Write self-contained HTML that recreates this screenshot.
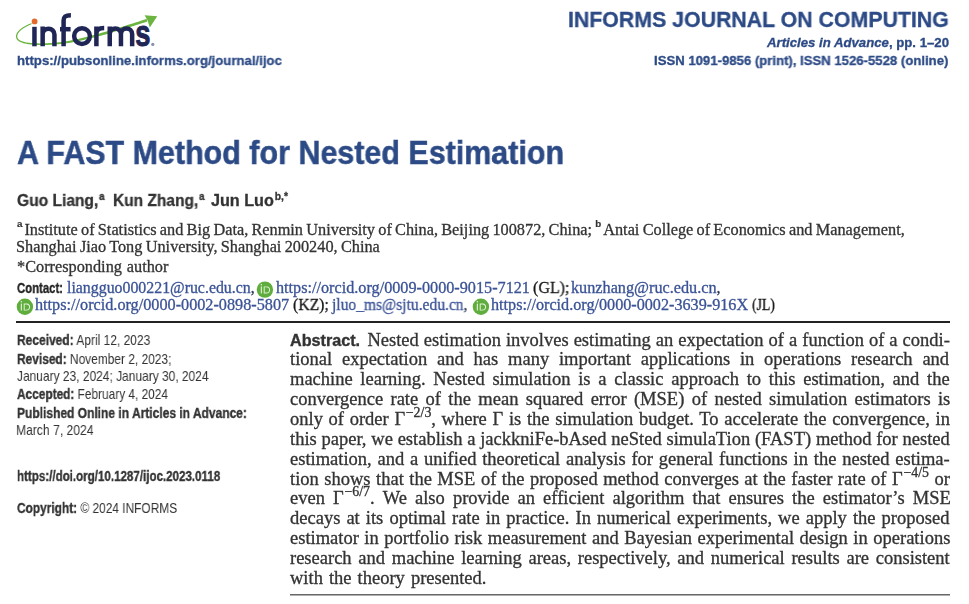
<!DOCTYPE html>
<html><head><meta charset="utf-8"><style>html,body{margin:0;padding:0;background:#fff;}
body{width:969px;height:604px;position:relative;overflow:hidden;}
.t{will-change:transform;position:absolute;white-space:nowrap;line-height:1;}
.pb{display:inline-block;width:0;height:0;}
.sup{font-size:0.64em;position:relative;top:-0.62em;margin-left:0.08em;}
.sups{font-family:'Liberation Sans',sans-serif;font-weight:bold;font-size:0.6em;position:relative;top:-0.82em;margin-right:0.2em;-webkit-text-stroke:0.2px currentColor;}
.gs{font-size:0.75em;position:relative;top:-0.55em;margin-left:0.05em;}
.abs{font-family:"Liberation Sans",sans-serif;font-weight:bold;font-size:0.875em;margin-right:0.14em;}
.rule{position:absolute;}
b,.bs{-webkit-text-stroke:0.35px currentColor;}
.abs{-webkit-text-stroke:0.35px currentColor;}
</style></head><body>
<svg style="position:absolute;left:0;top:0" width="170" height="52" viewBox="0 0 170 52">
  <path d="M31.29 23.09 L30.56 23.39 L29.83 23.70 L29.12 24.02 L28.41 24.34 L27.72 24.67 L27.03 25.00 L26.36 25.34 L25.71 25.68 L25.06 26.03 L24.43 26.39 L23.82 26.75 L23.22 27.12 L22.65 27.49 L22.08 27.86 L21.54 28.24 L21.02 28.63 L20.52 29.02 L20.04 29.42 L19.58 29.82 L19.14 30.22 L18.73 30.63 L18.34 31.05 L17.98 31.47 L17.64 31.90 L17.34 32.33 L17.06 32.77 L16.81 33.21 L16.59 33.66 L16.40 34.12 L16.25 34.58 L16.13 35.05 L16.05 35.52 L16.00 36.00 L16.00 36.48 L16.04 36.96 L16.11 37.45 L16.24 37.93 L16.40 38.41 L16.62 38.91 L16.95 39.44 L17.34 39.93 L17.79 40.39 L18.30 40.82 L18.87 41.22 L19.48 41.59 L20.15 41.94 L20.87 42.27 L21.64 42.58 L22.45 42.86 L23.31 43.13 L24.22 43.38 L25.16 43.60 L26.15 43.81 L27.18 44.00 L28.25 44.18 L29.36 44.33 L30.50 44.47 L31.67 44.59 L32.88 44.70 L34.12 44.79 L35.40 44.87 L36.69 44.93 L38.02 44.97 L39.37 45.00 L40.75 45.02 L42.15 45.02 L43.56 45.01 L45.00 44.99 L46.46 44.95 L47.93 44.90 L49.42 44.83 L50.92 44.76 L52.43 44.67 L53.95 44.57 L55.48 44.46 L57.01 44.33 L58.56 44.20 L60.10 44.05 L61.67 43.89 L63.28 43.70 L64.93 43.48 L66.62 43.24 L68.35 42.98 L70.11 42.69 L71.91 42.38 L73.75 42.04 L75.62 41.68 L77.53 41.30 L79.48 40.90 L81.46 40.47 L83.48 40.02 L85.53 39.55 L87.62 39.06 L89.75 38.55 L91.91 38.02 L94.10 37.47 L96.32 36.90 L98.58 36.31 L100.88 35.70 L103.20 35.07 L105.56 34.42 L107.96 33.75 L110.38 33.06 L112.83 32.34 L115.31 31.60 L117.82 30.85 L120.36 30.07 L122.94 29.28 L125.54 28.48 L128.17 27.66 L130.84 26.82 L133.53 25.97 L136.25 25.10 L139.00 24.22 L141.78 23.32 L144.59 22.41 L147.42 21.48 L146.58 18.92 L143.75 19.84 L140.95 20.75 L138.17 21.65 L135.43 22.53 L132.71 23.39 L130.02 24.24 L127.37 25.08 L124.74 25.90 L122.14 26.70 L119.58 27.49 L117.04 28.26 L114.53 29.02 L112.06 29.75 L109.62 30.47 L107.21 31.19 L104.84 31.89 L102.50 32.57 L100.20 33.24 L97.92 33.88 L95.68 34.51 L93.48 35.11 L91.31 35.69 L89.17 36.26 L87.07 36.80 L85.00 37.32 L82.96 37.81 L80.97 38.29 L79.01 38.74 L77.08 39.17 L75.19 39.58 L73.34 39.96 L71.53 40.32 L69.75 40.66 L68.01 40.97 L66.31 41.26 L64.65 41.52 L63.03 41.75 L61.44 41.96 L59.90 42.15 L58.37 42.32 L56.84 42.47 L55.32 42.62 L53.81 42.75 L52.30 42.87 L50.81 42.98 L49.32 43.08 L47.85 43.16 L46.39 43.23 L44.95 43.29 L43.53 43.33 L42.13 43.36 L40.75 43.38 L39.39 43.38 L38.06 43.37 L36.75 43.34 L35.47 43.30 L34.22 43.24 L33.00 43.17 L31.81 43.08 L30.66 42.97 L29.54 42.85 L28.46 42.71 L27.42 42.56 L26.43 42.39 L25.47 42.20 L24.56 41.99 L23.70 41.77 L22.88 41.53 L22.12 41.27 L21.41 41.00 L20.75 40.71 L20.15 40.40 L19.60 40.08 L19.12 39.74 L18.69 39.39 L18.33 39.03 L18.03 38.66 L17.78 38.29 L17.63 37.93 L17.49 37.55 L17.39 37.17 L17.33 36.80 L17.30 36.43 L17.29 36.06 L17.32 35.68 L17.38 35.31 L17.47 34.93 L17.59 34.56 L17.75 34.18 L17.93 33.79 L18.14 33.41 L18.38 33.03 L18.65 32.64 L18.94 32.25 L19.27 31.87 L19.62 31.48 L19.99 31.10 L20.40 30.72 L20.82 30.33 L21.27 29.96 L21.75 29.58 L22.24 29.21 L22.76 28.84 L23.30 28.47 L23.85 28.11 L24.43 27.75 L25.02 27.39 L25.62 27.04 L26.25 26.69 L26.89 26.35 L27.54 26.01 L28.21 25.68 L28.89 25.36 L29.58 25.04 L30.28 24.72 L30.99 24.41 L31.71 24.11 Z" fill="#6ab43f"/>
  <path d="M144.6 15.3 L157.2 16.3 L149.8 27.4 L147.6 20.6 Z" fill="#6ab43f"/>
  <g fill="none" stroke="#1f2555" stroke-width="4.5">
    <path d="M34.45 26.8 V46.3"/>
    <path d="M42.65 46.3 V26.4 M42.65 34.6 A5.9 5.9 0 0 1 54.45 34.6 V46.3"/>
    <path d="M63.6 46.3 V20.5 C63.6 16.5 65.5 15.3 70.9 15.3"/>
    <path d="M60 29.2 H70.6"/>
    <circle cx="82" cy="36.1" r="7.9"/>
    <path d="M96.4 46.3 V26.4 M96.4 34 C96.4 29.5 99 28.1 104.2 28.1"/>
    <path d="M109.75 46.3 V26.4 M109.75 34 A5.6 5.6 0 0 1 120.95 34 V46.3 M120.95 34 A5.6 5.6 0 0 1 132.15 34 V46.3"/>
  </g>
  <text x="0" y="0" font-family="Liberation Sans" font-weight="bold" font-size="37" fill="#1f2555" stroke="#1f2555" stroke-width="1" transform="translate(135.3 46.2) scale(0.74 1)">s</text>
  <circle cx="34.6" cy="21.4" r="2.9" fill="#e2692b"/>
  <circle cx="152.8" cy="44.4" r="1.6" fill="#8a90aa"/>
</svg>
<svg width="0" height="0" style="position:absolute">
  <defs>
    <g id="orcid">
      <circle cx="0" cy="0" r="8.2" fill="#5fad3c"/>
      <rect x="-4.1" y="-3.1" width="1.1" height="6.9" fill="#e4f1dc"/>
      <circle cx="-3.55" cy="-4.9" r="0.75" fill="#e4f1dc"/>
      <path d="M-1.2 -3.2 H1.4 C 4.6 -3.2, 5.2 -1.2, 5.2 0.3 C 5.2 2.2, 4 3.9, 1.4 3.9 H-1.2 Z M-0.2 -2.3 V3 H1.4 C 3.3 3, 4.2 1.8, 4.2 0.3 C 4.2 -1.2, 3.3 -2.3, 1.4 -2.3 Z" fill="#e4f1dc" fill-rule="evenodd"/>
    </g>
  </defs>
</svg>
<svg style="position:absolute;left:0;top:0" width="969" height="604" viewBox="0 0 969 604">
  <use href="#orcid" x="264.9" y="289.6"/>
  <use href="#orcid" x="24.9" y="306.7"/>
  <use href="#orcid" x="480.9" y="306.7"/>
</svg>
<div class="rule" style="left:16px;top:321px;width:934px;height:2px;background:#222;"></div>
<div class="rule" style="left:290px;top:594px;width:660px;height:1px;background:#686868;"></div>
<div class="rule" style="left:290px;top:595px;width:660px;height:1px;background:#b0b0b0;"></div>

<div class='t' id='url' style="left:16.90px;top:54.00px;font-family:'Liberation Sans',sans-serif;-webkit-text-stroke:0.3px currentColor;font-weight:bold;font-size:13.2px;color:#2c4a85;transform:scaleX(0.9985);transform-origin:0 0;">https://pubsonline.informs.org/journal/ijoc<span class='pb'></span></div>
<div class='t' id='jn' style="left:568.32px;top:9.30px;font-family:'Liberation Sans',sans-serif;-webkit-text-stroke:0.3px currentColor;font-weight:bold;font-size:21.8px;color:#2c4a85;-webkit-text-stroke:0.3px #2c4a85;transform:scaleX(0.9776);transform-origin:0 0;">INFORMS JOURNAL ON COMPUTING<span class='pb'></span></div>
<div class='t' id='aia' style="left:766.60px;top:36.00px;font-family:'Liberation Sans',sans-serif;-webkit-text-stroke:0.3px currentColor;font-weight:bold;font-size:13.2px;color:#2c4a85;transform:scaleX(1.0000);transform-origin:0 0;"><i>Articles in Advance</i>, pp. 1–20<span class='pb'></span></div>
<div class='t' id='issn' style="left:654.00px;top:54.00px;font-family:'Liberation Sans',sans-serif;-webkit-text-stroke:0.3px currentColor;font-weight:bold;font-size:13.2px;color:#2c4a85;transform:scaleX(0.9966);transform-origin:0 0;">ISSN 1091-9856 (print), ISSN 1526-5528 (online)<span class='pb'></span></div>
<div class='t' id='title' style="left:17.00px;top:137.00px;font-family:'Liberation Sans',sans-serif;-webkit-text-stroke:0.3px currentColor;font-weight:bold;font-size:32.7px;color:#2c4a85;-webkit-text-stroke:0.5px #2c4a85;transform:scaleX(0.9317);transform-origin:0 0;">A FAST Method for Nested Estimation<span class='pb'></span></div>
<div class='t' id='au1' style="left:17.20px;top:193.40px;font-family:'Liberation Sans',sans-serif;-webkit-text-stroke:0.3px currentColor;font-weight:bold;font-size:16px;color:#333;transform:scaleX(0.9733);transform-origin:0 0;">Guo Liang,<span class='sup'>a</span><span class='pb'></span></div>
<div class='t' id='au2' style="left:112.70px;top:193.40px;font-family:'Liberation Sans',sans-serif;-webkit-text-stroke:0.3px currentColor;font-weight:bold;font-size:16px;color:#333;transform:scaleX(0.9695);transform-origin:0 0;">Kun Zhang,<span class='sup'>a</span><span class='pb'></span></div>
<div class='t' id='au3' style="left:211.00px;top:193.40px;font-family:'Liberation Sans',sans-serif;-webkit-text-stroke:0.3px currentColor;font-weight:bold;font-size:16px;color:#333;transform:scaleX(1.0104);transform-origin:0 0;">Jun Luo<span class='sup'>b,*</span><span class='pb'></span></div>
<div class='t' id='aff1' style="left:16.70px;top:221.50px;font-family:'Liberation Serif',serif;font-size:16.3px;color:#333;-webkit-text-stroke:0.3px #333;word-spacing:-0.82px;"><span class='sups'>a</span>Institute of Statistics and Big Data, Renmin University of China, Beijing 100872, China; <span class='sups'>b</span>Antai College of Economics and Management,<span class='pb'></span></div>
<div class='t' id='aff2' style="left:15.70px;top:238.60px;font-family:'Liberation Serif',serif;font-size:16.3px;color:#333;-webkit-text-stroke:0.3px #333;word-spacing:-0.75px;">Shanghai Jiao Tong University, Shanghai 200240, China<span class='pb'></span></div>
<div class='t' id='corr' style="left:17.20px;top:258.90px;font-family:'Liberation Serif',serif;font-size:16.3px;color:#333;-webkit-text-stroke:0.3px #333;word-spacing:0.80px;">*Corresponding author<span class='pb'></span></div>
<div class='t' id='contact' style="left:16.90px;top:280.50px;font-family:'Liberation Sans',sans-serif;-webkit-text-stroke:0.35px currentColor;font-weight:bold;font-size:14.6px;color:#222;transform:scaleX(0.7776);transform-origin:0 0;">Contact:<span class='pb'></span></div>
<div class='t' id='em1' style="left:66.50px;top:279.50px;font-family:'Liberation Serif',serif;font-size:15.7px;color:#3b5396;-webkit-text-stroke:0.3px #3b5396;transform:scaleX(1.0108);transform-origin:0 0;">liangguo000221@ruc.edu.cn<span style='color:#222'>,</span><span class='pb'></span></div>
<div class='t' id='orc1' style="left:275.80px;top:279.50px;font-family:'Liberation Serif',serif;font-size:15.7px;color:#3b5396;-webkit-text-stroke:0.3px #3b5396;transform:scaleX(1.0327);transform-origin:0 0;">https://orcid.org/0009-0000-9015-7121<span class='pb'></span></div>
<div class='t' id='gl' style="left:533.00px;top:279.50px;font-family:'Liberation Serif',serif;font-size:16.3px;color:#161616;-webkit-text-stroke:0.3px #161616;transform:scaleX(0.9833);transform-origin:0 0;">(GL);<span class='pb'></span></div>
<div class='t' id='em2' style="left:571.40px;top:279.50px;font-family:'Liberation Serif',serif;font-size:15.7px;color:#3b5396;-webkit-text-stroke:0.3px #3b5396;transform:scaleX(1.0340);transform-origin:0 0;">kunzhang@ruc.edu.cn<span style='color:#222'>,</span><span class='pb'></span></div>
<div class='t' id='orc2' style="left:34.80px;top:296.50px;font-family:'Liberation Serif',serif;font-size:15.7px;color:#3b5396;-webkit-text-stroke:0.3px #3b5396;transform:scaleX(1.0333);transform-origin:0 0;">https://orcid.org/0000-0002-0898-5807<span class='pb'></span></div>
<div class='t' id='kz' style="left:293.00px;top:296.50px;font-family:'Liberation Serif',serif;font-size:16.3px;color:#161616;-webkit-text-stroke:0.3px #161616;transform:scaleX(0.9667);transform-origin:0 0;">(KZ);<span class='pb'></span></div>
<div class='t' id='em3' style="left:331.99px;top:296.50px;font-family:'Liberation Serif',serif;font-size:15.7px;color:#3b5396;-webkit-text-stroke:0.3px #3b5396;transform:scaleX(0.9891);transform-origin:0 0;">jluo_ms@sjtu.edu.cn<span style='color:#222'>,</span><span class='pb'></span></div>
<div class='t' id='orc3' style="left:490.90px;top:296.50px;font-family:'Liberation Serif',serif;font-size:15.7px;color:#3b5396;-webkit-text-stroke:0.3px #3b5396;transform:scaleX(1.0309);transform-origin:0 0;">https://orcid.org/0000-0002-3639-916X<span class='pb'></span></div>
<div class='t' id='jl' style="left:751.70px;top:296.50px;font-family:'Liberation Serif',serif;font-size:16.3px;color:#161616;-webkit-text-stroke:0.3px #161616;transform:scaleX(0.8407);transform-origin:0 0;">(JL)<span class='pb'></span></div>
<div class='t' id='rec' style="left:16.90px;top:332.90px;font-family:'Liberation Sans',sans-serif;font-size:14.3px;color:#333;transform:scaleX(0.8384);transform-origin:0 0;"><b>Received:</b> April 12, 2023<span class='pb'></span></div>
<div class='t' id='rev' style="left:16.90px;top:351.70px;font-family:'Liberation Sans',sans-serif;font-size:14.3px;color:#333;transform:scaleX(0.8337);transform-origin:0 0;"><b>Revised:</b> November 2, 2023;<span class='pb'></span></div>
<div class='t' id='jan' style="left:16.90px;top:368.60px;font-family:'Liberation Sans',sans-serif;font-size:14.3px;color:#333;transform:scaleX(0.8367);transform-origin:0 0;">January 23, 2024; January 30, 2024<span class='pb'></span></div>
<div class='t' id='acc' style="left:16.90px;top:387.20px;font-family:'Liberation Sans',sans-serif;font-size:14.3px;color:#333;transform:scaleX(0.8297);transform-origin:0 0;"><b>Accepted:</b> February 4, 2024<span class='pb'></span></div>
<div class='t' id='pub' style="left:16.90px;top:406.00px;font-family:'Liberation Sans',sans-serif;font-size:14.3px;color:#333;transform:scaleX(0.8396);transform-origin:0 0;"><b>Published Online in Articles in Advance:</b><span class='pb'></span></div>
<div class='t' id='mar' style="left:16.05px;top:423.30px;font-family:'Liberation Sans',sans-serif;font-size:14.3px;color:#333;transform:scaleX(0.8478);transform-origin:0 0;">March 7, 2024<span class='pb'></span></div>
<div class='t' id='doi' style="left:16.90px;top:468.90px;font-family:'Liberation Sans',sans-serif;font-size:14.3px;color:#333;transform:scaleX(0.8092);transform-origin:0 0;"><b>https://doi.org/10.1287/ijoc.2023.0118</b><span class='pb'></span></div>
<div class='t' id='copy' style="left:16.90px;top:500.70px;font-family:'Liberation Sans',sans-serif;font-size:14.3px;color:#333;transform:scaleX(0.8318);transform-origin:0 0;"><b>Copyright:</b> © 2024 INFORMS<span class='pb'></span></div>
<div class='t' id='ab0' style="left:289.70px;top:330.50px;font-family:'Liberation Serif',serif;font-size:18.5px;color:#333;-webkit-text-stroke:0.32px #333;word-spacing:0.41px;"><span class='abs'>Abstract.</span> Nested estimation involves estimating an expectation of a function of a condi-<span class='pb'></span></div>
<div class='t' id='ab1' style="left:289.70px;top:350.36px;font-family:'Liberation Serif',serif;font-size:18.5px;color:#333;-webkit-text-stroke:0.32px #333;word-spacing:5.19px;">tional expectation and has many important applications in operations research and<span class='pb'></span></div>
<div class='t' id='ab2' style="left:289.70px;top:370.22px;font-family:'Liberation Serif',serif;font-size:18.5px;color:#333;-webkit-text-stroke:0.32px #333;word-spacing:3.08px;">machine learning. Nested simulation is a classic approach to this estimation, and the<span class='pb'></span></div>
<div class='t' id='ab3' style="left:289.70px;top:390.08px;font-family:'Liberation Serif',serif;font-size:18.5px;color:#333;-webkit-text-stroke:0.32px #333;word-spacing:2.74px;">convergence rate of the mean squared error (MSE) of nested simulation estimators is<span class='pb'></span></div>
<div class='t' id='ab4' style="left:289.70px;top:409.94px;font-family:'Liberation Serif',serif;font-size:18.5px;color:#333;-webkit-text-stroke:0.32px #333;word-spacing:1.06px;">only of order Γ<span class='gs'>−2/3</span>, where Γ is the simulation budget. To accelerate the convergence, in<span class='pb'></span></div>
<div class='t' id='ab5' style="left:289.70px;top:429.80px;font-family:'Liberation Serif',serif;font-size:18.5px;color:#333;-webkit-text-stroke:0.32px #333;word-spacing:0.17px;">this paper, we establish a jackkniFe-bAsed neSted simulaTion (FAST) method for nested<span class='pb'></span></div>
<div class='t' id='ab6' style="left:289.70px;top:449.66px;font-family:'Liberation Serif',serif;font-size:18.5px;color:#333;-webkit-text-stroke:0.32px #333;word-spacing:1.16px;">estimation, and a unified theoretical analysis for general functions in the nested estima-<span class='pb'></span></div>
<div class='t' id='ab7' style="left:289.70px;top:469.52px;font-family:'Liberation Serif',serif;font-size:18.5px;color:#333;-webkit-text-stroke:0.32px #333;word-spacing:0.87px;">tion shows that the MSE of the proposed method converges at the faster rate of Γ<span class='gs'>−4/5</span> or<span class='pb'></span></div>
<div class='t' id='ab8' style="left:289.70px;top:489.38px;font-family:'Liberation Serif',serif;font-size:18.5px;color:#333;-webkit-text-stroke:0.32px #333;word-spacing:3.49px;">even Γ<span class='gs'>−6/7</span>. We also provide an efficient algorithm that ensures the estimator’s MSE<span class='pb'></span></div>
<div class='t' id='ab9' style="left:289.70px;top:509.24px;font-family:'Liberation Serif',serif;font-size:18.5px;color:#333;-webkit-text-stroke:0.32px #333;word-spacing:1.45px;">decays at its optimal rate in practice. In numerical experiments, we apply the proposed<span class='pb'></span></div>
<div class='t' id='ab10' style="left:289.70px;top:529.10px;font-family:'Liberation Serif',serif;font-size:18.5px;color:#333;-webkit-text-stroke:0.32px #333;word-spacing:0.89px;">estimator in portfolio risk measurement and Bayesian experimental design in operations<span class='pb'></span></div>
<div class='t' id='ab11' style="left:289.70px;top:548.96px;font-family:'Liberation Serif',serif;font-size:18.5px;color:#333;-webkit-text-stroke:0.32px #333;word-spacing:2.09px;">research and machine learning areas, respectively, and numerical results are consistent<span class='pb'></span></div>
<div class='t' id='ab12' style="left:289.70px;top:568.82px;font-family:'Liberation Serif',serif;font-size:18.5px;color:#333;-webkit-text-stroke:0.32px #333;word-spacing:1.43px;">with the theory presented.<span class='pb'></span></div>
</body></html>
